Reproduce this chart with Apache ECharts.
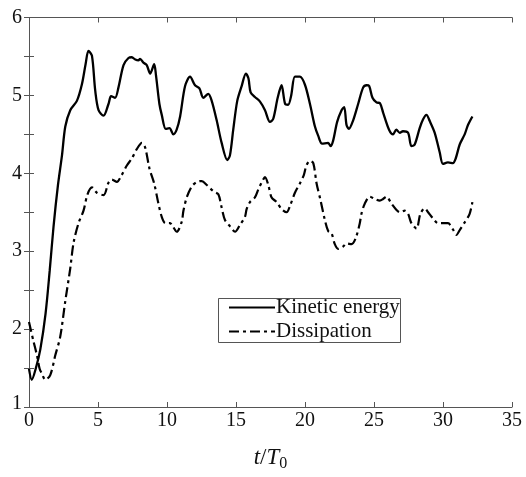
<!DOCTYPE html>
<html>
<head>
<meta charset="utf-8">
<script src="https://cdn.jsdelivr.net/npm/echarts@6/dist/echarts.min.js"></script>
<style>html,body{margin:0;padding:0;background:#fff}#c{width:526px;height:477px}</style>
</head>
<body>
<div id="c"></div>
<script>
const xTicks = [0, 5, 10, 15, 20, 25, 30, 35];
const yTicks = [1, 2, 3, 4, 5, 6];
const keT = [0,0.2,0.5,0.82,1.2,1.5,1.78,2.1,2.39,2.63,2.99,3.47,3.83,4.1,4.31,4.56,4.8,5.04,5.4,5.76,5.95,6.24,6.48,6.85,7.21,7.45,7.7,7.93,8.05,8.29,8.53,8.78,9.07,9.2,9.45,9.62,9.91,10.18,10.46,10.7,10.95,11.31,11.67,12.03,12.35,12.63,12.99,13.24,13.6,13.96,14.37,14.56,14.8,15.09,15.41,15.72,15.9,16.06,16.37,16.74,17.1,17.46,17.7,18.02,18.3,18.56,18.78,19.0,19.27,19.63,19.99,20.36,20.72,20.96,21.24,21.68,21.85,22.04,22.33,22.65,22.84,23.01,23.18,23.49,23.85,24.21,24.46,24.65,24.89,25.18,25.43,25.66,26.09,26.38,26.62,26.87,27.1,27.47,27.71,27.95,28.31,28.55,28.8,29.04,29.4,29.76,30.0,30.36,30.72,30.92,31.21,31.57,31.81,32.13];
const keV = [1.49,1.35,1.5,1.74,2.2,2.75,3.32,3.85,4.23,4.6,4.81,4.93,5.14,5.4,5.57,5.51,5.06,4.81,4.74,4.89,4.99,4.97,5.1,5.39,5.48,5.49,5.46,5.45,5.47,5.42,5.39,5.28,5.4,5.26,4.89,4.75,4.57,4.58,4.5,4.56,4.73,5.12,5.24,5.13,5.09,4.97,5.02,4.93,4.68,4.39,4.17,4.23,4.56,4.93,5.12,5.28,5.22,5.04,4.98,4.92,4.81,4.66,4.7,4.97,5.13,4.89,4.88,5.0,5.24,5.24,5.14,4.89,4.6,4.48,4.38,4.39,4.35,4.42,4.66,4.81,4.85,4.62,4.57,4.68,4.89,5.1,5.13,5.12,4.97,4.91,4.9,4.78,4.56,4.5,4.56,4.52,4.54,4.52,4.35,4.37,4.58,4.69,4.75,4.67,4.52,4.27,4.12,4.14,4.13,4.19,4.37,4.5,4.62,4.73];
const disT = [0,0.33,0.58,0.77,0.93,1.18,1.54,1.9,2.26,2.63,2.99,3.23,3.59,3.95,4.24,4.56,4.92,5.4,5.76,6.0,6.37,6.66,7.09,7.45,7.81,8.18,8.42,8.73,9.07,9.38,9.62,9.88,10.22,10.35,10.71,11.07,11.19,11.43,11.79,12.16,12.52,12.88,13.36,13.72,13.96,14.2,14.56,14.93,15.29,15.65,15.77,16.01,16.37,16.61,16.97,17.1,17.34,17.58,17.95,18.31,18.67,18.91,19.27,19.63,19.92,20.1,20.36,20.6,20.84,21.13,21.44,21.68,21.92,22.16,22.4,22.76,23.01,23.37,23.68,23.97,24.09,24.33,24.7,25.06,25.42,25.66,25.9,26.27,26.63,26.87,27.23,27.47,27.71,28.08,28.36,28.68,28.92,29.28,29.64,30.0,30.36,30.72,30.97,31.21,31.57,31.93,32.13];
const disV = [2.09,1.84,1.66,1.49,1.43,1.35,1.41,1.66,1.9,2.36,2.78,3.11,3.36,3.52,3.73,3.82,3.75,3.72,3.88,3.92,3.89,3.96,4.1,4.19,4.31,4.39,4.33,4.06,3.87,3.61,3.44,3.36,3.36,3.34,3.25,3.38,3.52,3.69,3.83,3.89,3.9,3.85,3.77,3.73,3.56,3.4,3.32,3.25,3.34,3.44,3.54,3.63,3.69,3.79,3.92,3.95,3.85,3.69,3.63,3.54,3.5,3.58,3.75,3.87,3.98,4.1,4.16,4.13,3.87,3.65,3.4,3.26,3.23,3.09,3.03,3.06,3.1,3.09,3.17,3.36,3.48,3.61,3.7,3.67,3.65,3.67,3.7,3.61,3.53,3.5,3.52,3.48,3.36,3.29,3.48,3.55,3.5,3.42,3.36,3.36,3.36,3.28,3.21,3.27,3.37,3.48,3.63];

const serif = '"Liberation Serif", "DejaVu Serif", serif';
const chart = echarts.init(document.getElementById('c'));
const axLine = {show: true, lineStyle: {color: '#555', width: 1}};
const xBase = {
  type: 'value', min: xTicks[0], max: xTicks[xTicks.length - 1], interval: 5,
  axisLine: axLine, splitLine: {show: false},
  axisTick: {show: true, inside: true, length: 5, lineStyle: {color: '#555'}}
};
const yBase = {
  type: 'value', min: yTicks[0], max: yTicks[yTicks.length - 1], interval: 0.5,
  axisLine: axLine, splitLine: {show: false},
  axisTick: {show: true, inside: true, length: 5, lineStyle: {color: '#555'}}
};
chart.setOption({
  animation: false,
  backgroundColor: '#fff',
  grid: {left: 29, right: 14, top: 17.5, bottom: 57.5},
  graphic: [
    {type: 'rect', shape: {x: 218.5, y: 298.5, width: 182, height: 44},
     style: {fill: 'none', stroke: '#555', lineWidth: 1}, z: 50}
  ],
  xAxis: [
    Object.assign({}, xBase, {
      position: 'bottom',
      axisLabel: {color: '#111', fontFamily: serif, fontSize: 20, margin: 4},
      name: '{i|t}{n|/}{i|T}{s|0}', nameLocation: 'middle', nameGap: 37,
      nameTextStyle: {
        rich: {
          i: {fontFamily: serif, fontStyle: 'italic', fontSize: 23, color: '#111'},
          n: {fontFamily: serif, fontSize: 23, color: '#111'},
          s: {fontFamily: serif, fontSize: 16, color: '#111', padding: [12, 0, 0, 0]}
        }
      }
    }),
    Object.assign({}, xBase, {position: 'top', axisLabel: {show: false}})
  ],
  yAxis: [
    Object.assign({}, yBase, {
      position: 'left',
      axisLabel: {color: '#111', fontFamily: serif, fontSize: 20, margin: 7,
        formatter: v => (Math.abs(v - Math.round(v)) < 1e-6 ? (v === 1 ? '{b|1}' : String(Math.round(v))) : ''),
        rich: {b: {fontFamily: serif, fontSize: 20, color: '#111', padding: [0, 0, 6, 0]}}}
    }),
    Object.assign({}, yBase, {position: 'right', axisLabel: {show: false}})
  ],
  legend: {
    left: 218, top: 297, orient: 'vertical',
    itemWidth: 46, itemHeight: 10, itemGap: 3,
    padding: [0, 3, 3, 10],
    itemStyle: {opacity: 0},
    textStyle: {fontFamily: serif, fontSize: 21, color: '#111', padding: [0, 0, 0, -4]},
    data: ['Kinetic energy', 'Dissipation']
  },
  series: [
    {
      name: 'Kinetic energy', type: 'line', symbol: 'none', smooth: 0.3,
      data: keT.map((t, i) => [t, keV[i]]),
      lineStyle: {color: '#000', width: 2.3}, itemStyle: {color: '#000'}
    },
    {
      name: 'Dissipation', type: 'line', symbol: 'none', smooth: 0.3,
      data: disT.map((t, i) => [t, disV[i]]),
      lineStyle: {color: '#000', width: 2.2, type: [10, 4, 3, 4]}, itemStyle: {color: '#000'}
    }
  ]
});
</script>
</body>
</html>
